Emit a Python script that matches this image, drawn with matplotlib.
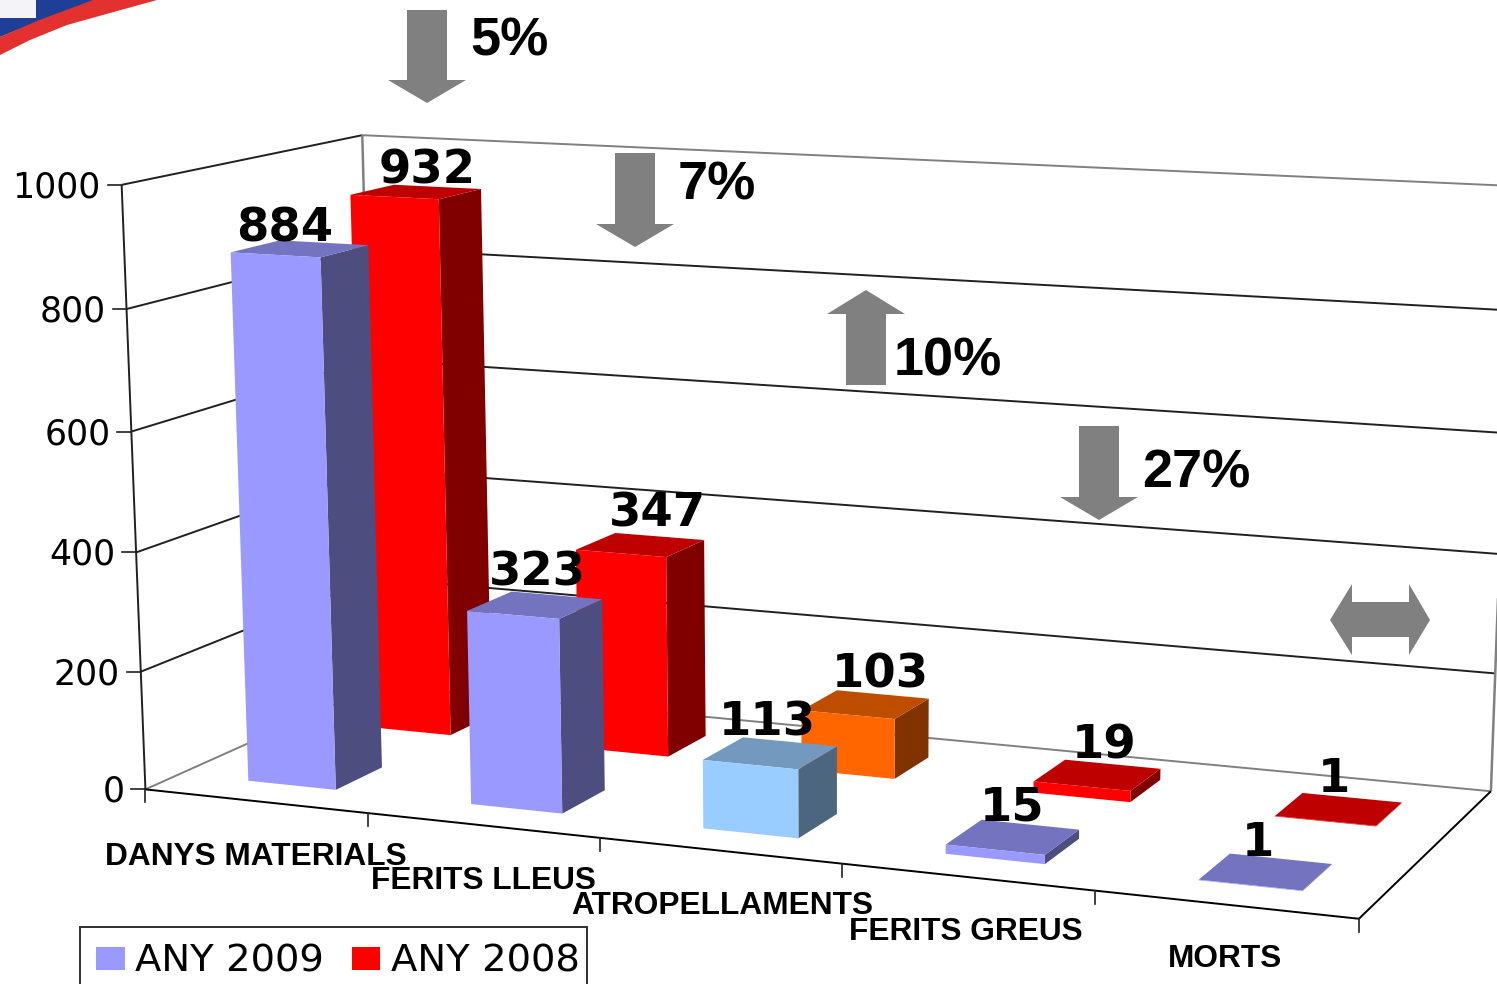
import numpy as np
import matplotlib
matplotlib.use("Agg")
import matplotlib.pyplot as plt
from matplotlib.patches import Polygon, Rectangle

# ---- data ----
categories = ["DANYS MATERIALS", "FERITS LLEUS", "ATROPELLAMENTS", "FERITS GREUS", "MORTS"]
any_2009 = [884, 323, 113, 15, 1]
any_2008 = [932, 347, 103, 19, 1]
colors_2009 = ["#9999FF", "#9999FF", "#99CCFF", "#9999FF", "#9999FF"]
colors_2008 = ["#FF0000", "#FF0000", "#FF6600", "#FF0000", "#FF0000"]
y_ticks = [0, 200, 400, 600, 800, 1000]
changes = ["5%", "7%", "10%", "27%"]

# ---- layout ----
W, H = 1497, 984
# calibration of the 3D box: (category position, depth, value) -> pixel
CAL = [((0, 0, 0), (146, 789)), ((5, 0, 0), (1359, 919)),
       ((0, 1, 0), (376, 686)), ((5, 1, 0), (1491, 791)),
       ((0, 0, 1000), (121, 185)), ((0, 1, 1000), (363, 135)),
       ((5, 1, 1000), (1513, 186))]
A = []
for (x, d, v), (u, w) in CAL:
    p = [x, d, v, 1]
    A.append(p + [0, 0, 0, 0] + [-u * c for c in p])
    A.append([0, 0, 0, 0] + p + [-w * c for c in p])
P = np.linalg.svd(np.array(A, float))[2][-1].reshape(3, 4)


def proj(x, d, v):
    q = P @ np.array([x, d, v, 1.0])
    return q[0] / q[2], q[1] / q[2]


def shade(hexcol, k):
    r, g, b = matplotlib.colors.to_rgb(hexcol)
    return (r * k, g * k, b * k)


fig = plt.figure(figsize=(W / 100, H / 100), dpi=100)
ax = fig.add_axes([0, 0, 1, 1])
ax.set_xlim(0, W)
ax.set_ylim(H, 0)
ax.axis("off")

GRAY = "#808080"
DARK = "#202020"


def seg(a, b, color=DARK, lw=1.4, z=1):
    pa, pb = proj(*a), proj(*b)
    ax.plot([pa[0], pb[0]], [pa[1], pb[1]], color=color, lw=lw, zorder=z, solid_capstyle="butt")


# walls and grid
for v in y_ticks:
    c = GRAY if v in (0, 1000) else DARK
    seg((0, 1, v), (5, 1, v), color=c)
    seg((0, 0, v), (0, 1, v), color=GRAY if v == 0 else DARK)
    px, py = proj(0, 0, v)
    ax.plot([px - 14, px], [py, py], color=DARK, lw=1.2, zorder=1)
    ax.text(px - 21, py - 1, str(v), ha="right", va="center_baseline", fontsize=25,
            family="DejaVu Sans", color="black")
seg((0, 1, 0), (0, 1, 1000), color=GRAY, lw=1.8)
seg((5, 1, 0), (5, 1, 1000), color=GRAY, lw=1.8)
seg((0, 0, 0), (0, 0, 1000))
seg((0, 0, 0), (5, 0, 0), color="black")
seg((5, 0, 0), (5, 1, 0), color="black")
for i in range(6):
    px, py = proj(i, 0, 0)
    ax.plot([px, px], [py, py + 13], color=DARK, lw=1.2, zorder=1)


# bars
def bar(i, value, col, d0, d1, x0, x1, z=3):
    a, b = i + x0, i + x1
    front = [proj(a, d0, 0), proj(b, d0, 0), proj(b, d0, value), proj(a, d0, value)]
    side = [proj(b, d0, 0), proj(b, d1, 0), proj(b, d1, value), proj(b, d0, value)]
    top = [proj(a, d0, value), proj(b, d0, value), proj(b, d1, value), proj(a, d1, value)]
    ax.add_patch(Polygon(side, closed=True, fc=shade(col, 0.5), ec="none", zorder=z))
    ax.add_patch(Polygon(top, closed=True, fc=shade(col, 0.75), ec="none", zorder=z))
    ax.add_patch(Polygon(front, closed=True, fc=col, ec="none", zorder=z))


for i in range(5):
    bar(i, any_2008[i], colors_2008[i], 0.645, 0.84, 0.312, 0.718, z=3)
for i in range(5):
    bar(i, any_2009[i], colors_2009[i], 0.14, 0.34, 0.3125, 0.71, z=4)

# value labels
label_px_2009 = [(285, 229), (537, 573), (767, 723), (1012, 808), (1258, 844)]
label_px_2008 = [(427, 171), (657, 514), (880, 675), (1104, 746), (1334, 780)]
for vals, pos in ((any_2009, label_px_2009), (any_2008, label_px_2008)):
    for v, (x, y) in zip(vals, pos):
        ax.text(x, y, str(v), ha="center", va="center", fontsize=33.5, fontweight="bold",
                family="DejaVu Sans", color="black", zorder=6)

# category labels
cat_px = [(256, 857), (483, 881), (722, 906), (966, 932), (1225, 959)]
for t, (x, y) in zip(categories, cat_px):
    ax.text(x, y, t, ha="center", va="center", fontsize=22.8, fontweight="bold",
            family="Liberation Sans", color="black", zorder=6)


# change arrows
def vert_arrow(cx, tail, tip, base):
    pts = [(cx - 20, tail), (cx + 20, tail), (cx + 20, base), (cx + 39, base), (cx, tip),
           (cx - 39, base), (cx - 20, base)]
    ax.add_patch(Polygon(pts, closed=True, fc=GRAY, ec="none", zorder=5))


vert_arrow(427, 10, 103, 80)
vert_arrow(635, 153, 247, 224)
vert_arrow(866, 385, 290, 314)
vert_arrow(1099, 426, 520, 497)
ax.add_patch(Polygon([(1330, 620), (1352, 584), (1352, 602), (1409, 602), (1409, 584), (1430, 620),
                      (1409, 655), (1409, 637), (1352, 637), (1352, 655)],
                     closed=True, fc=GRAY, ec="none", zorder=5))
for t, (x, y) in zip(changes, [(509, 41), (717, 185), (948, 361), (1196, 473)]):
    ax.text(x, y, t, ha="center", va="center", fontsize=39, fontweight="bold",
            family="Liberation Sans", color="black", zorder=6)

# legend
ax.add_patch(Rectangle((80, 927), 507, 70, fc="white", ec="#303030", lw=1.4, zorder=7))
ax.add_patch(Rectangle((96, 947), 29, 23, fc="#9999FF", ec="none", zorder=8))
ax.add_patch(Rectangle((352, 947), 28, 23, fc="#FF0000", ec="none", zorder=8))
ax.text(135, 961, "ANY 2009", ha="left", va="center", fontsize=27.7, family="DejaVu Sans", zorder=8)
ax.text(391, 961, "ANY 2008", ha="left", va="center", fontsize=27.7, family="DejaVu Sans", zorder=8)

# flag corner
ax.add_patch(Polygon([(0, 0), (95, 0), (37, 22), (0, 37)], closed=True, fc="#1F3F96", ec="none", zorder=2))
ax.add_patch(Rectangle((0, 0), 36, 18, fc="#F4F4F8", ec="none", zorder=3))
ax.add_patch(Polygon([(0, 37), (37, 21), (93, 0), (157, 0), (110, 13), (67, 25), (30, 40), (0, 55)],
                     closed=True, fc="#E3312F", ec="none", zorder=3))

fig.savefig("out.png", dpi=100)
